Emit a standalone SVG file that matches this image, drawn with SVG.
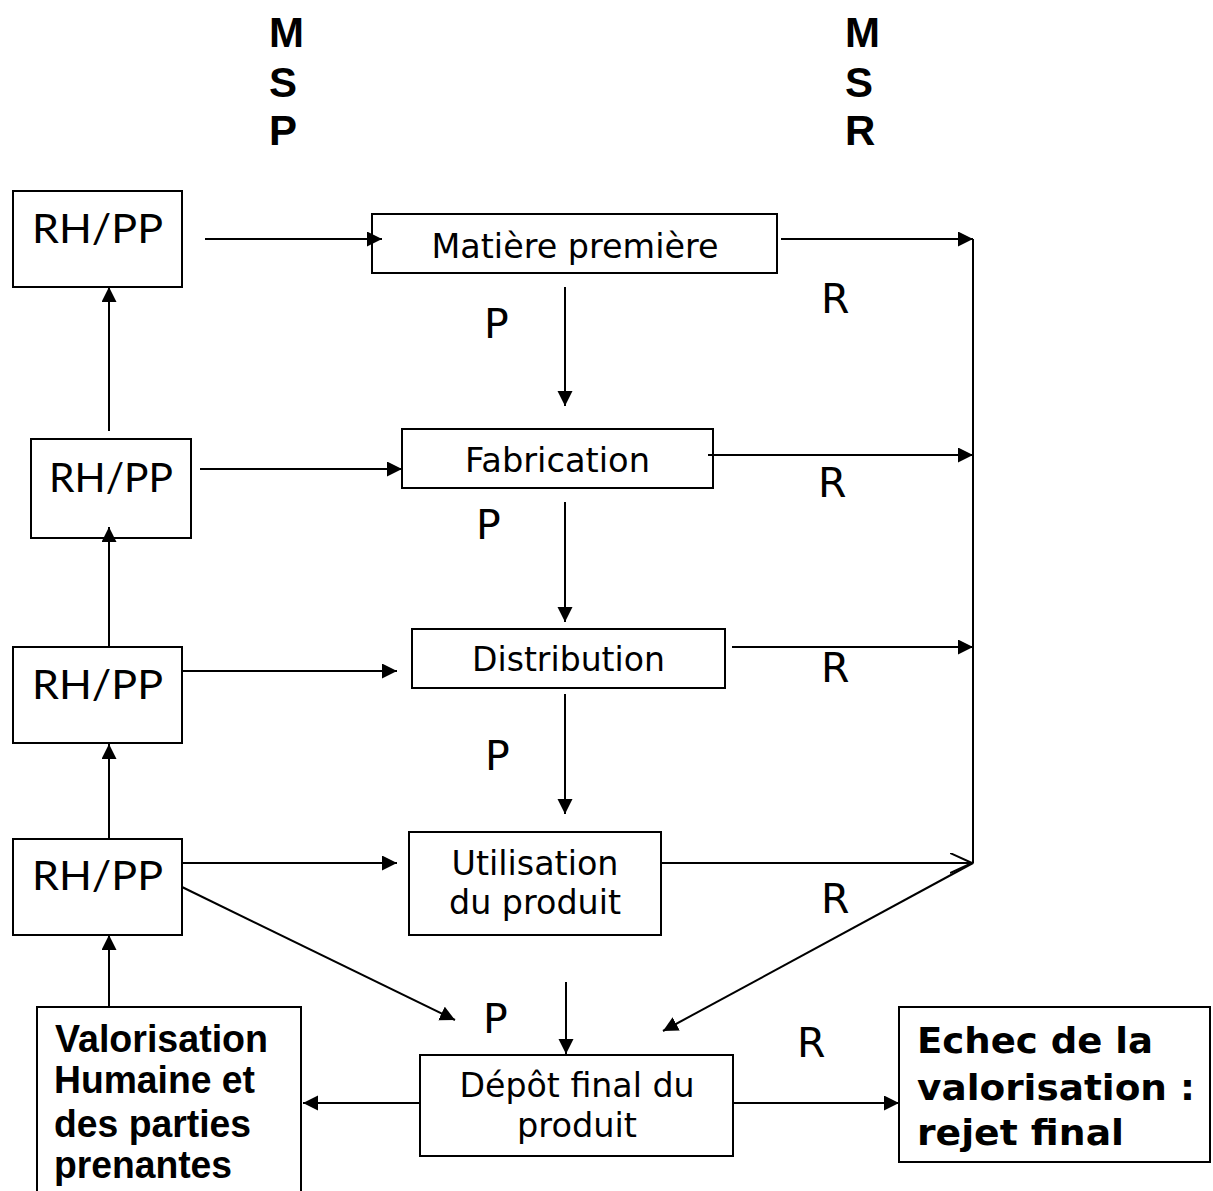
<svg xmlns="http://www.w3.org/2000/svg" width="1213" height="1191" viewBox="0 0 1213 1191">
<style>
.box{fill:#fff;stroke:#000;stroke-width:2}
.ln{fill:none;stroke:#000;stroke-width:2}
.rh{font-family:Lato,"Liberation Sans",sans-serif;font-size:40px;text-anchor:middle}
.bt{font-family:"DejaVu Sans",Verdana,sans-serif;font-size:33px;text-anchor:middle}
.lab{font-family:"DejaVu Sans",Verdana,sans-serif;font-size:41px}
.hd{font-family:"Liberation Sans",Arial,sans-serif;font-weight:bold;font-size:42px}
.vb{font-family:"Liberation Sans",Arial,sans-serif;font-weight:bold;font-size:38px}
.eb{font-family:"DejaVu Sans",Verdana,sans-serif;font-weight:bold;font-size:35px}
</style>
<defs>
<marker id="ah" markerUnits="userSpaceOnUse" markerWidth="16" markerHeight="16" refX="15" refY="7.5" orient="auto" viewBox="0 0 16 16">
<path d="M0,0 L15,7.5 L0,15 z" fill="#000"/>
</marker>
<marker id="oh" markerUnits="userSpaceOnUse" markerWidth="24" markerHeight="24" refX="22" refY="10" orient="auto" viewBox="0 0 24 24">
<path d="M0,0 L22,10 L0,20" fill="none" stroke="#000" stroke-width="2"/>
</marker>
</defs>
<g id="headers">
<text class="hd" x="269" y="47">M</text>
<text class="hd" x="269" y="97">S</text>
<text class="hd" x="269" y="145">P</text>
<text class="hd" x="845" y="47">M</text>
<text class="hd" x="845" y="97">S</text>
<text class="hd" x="845" y="145">R</text>
</g>
<g id="rh1"><rect class="box" x="13" y="191" width="169" height="96"/><text class="rh" x="97.5" y="243" textLength="131" lengthAdjust="spacingAndGlyphs">RH/PP</text></g>
<g id="rh2"><rect class="box" x="31" y="439" width="160" height="99"/><text class="rh" x="111" y="492" textLength="124" lengthAdjust="spacingAndGlyphs">RH/PP</text></g>
<g id="rh3"><rect class="box" x="13" y="647" width="169" height="96"/><text class="rh" x="97.5" y="699" textLength="131" lengthAdjust="spacingAndGlyphs">RH/PP</text></g>
<g id="rh4"><rect class="box" x="13" y="839" width="169" height="96"/><text class="rh" x="97.5" y="890" textLength="131" lengthAdjust="spacingAndGlyphs">RH/PP</text></g>
<g id="matiere"><rect class="box" x="372" y="214" width="405" height="59"/><text class="bt" x="575" y="258" textLength="287" lengthAdjust="spacingAndGlyphs">Matière première</text></g>
<g id="fabrication"><rect class="box" x="402" y="429" width="311" height="59"/><text class="bt" x="557.5" y="472" textLength="185" lengthAdjust="spacingAndGlyphs">Fabrication</text></g>
<g id="distribution"><rect class="box" x="412" y="629" width="313" height="59"/><text class="bt" x="568.5" y="671" textLength="193" lengthAdjust="spacingAndGlyphs">Distribution</text></g>
<g id="utilisation"><rect class="box" x="409" y="832" width="252" height="103"/><text class="bt" x="535" y="875" textLength="167" lengthAdjust="spacingAndGlyphs">Utilisation</text><text class="bt" x="535" y="914" textLength="172" lengthAdjust="spacingAndGlyphs">du produit</text></g>
<g id="depot"><rect class="box" x="420" y="1055" width="313" height="101"/><text class="bt" x="577" y="1097" textLength="235" lengthAdjust="spacingAndGlyphs">Dépôt final du</text><text class="bt" x="577" y="1137" textLength="120" lengthAdjust="spacingAndGlyphs">produit</text></g>
<g id="valorisation"><rect class="box" x="37" y="1007" width="264" height="200"/>
<text class="vb" x="55" y="1052" textLength="213" lengthAdjust="spacingAndGlyphs">Valorisation</text>
<text class="vb" x="54" y="1093" textLength="201" lengthAdjust="spacingAndGlyphs">Humaine et</text>
<text class="vb" x="54" y="1137" textLength="197" lengthAdjust="spacingAndGlyphs">des parties</text>
<text class="vb" x="54" y="1178" textLength="178" lengthAdjust="spacingAndGlyphs">prenantes</text></g>
<g id="echec"><rect class="box" x="899" y="1007" width="311" height="155"/>
<text class="eb" x="917" y="1053" textLength="236" lengthAdjust="spacingAndGlyphs">Echec de la</text>
<text class="eb" x="917" y="1100" textLength="278" lengthAdjust="spacingAndGlyphs">valorisation :</text>
<text class="eb" x="917" y="1145" textLength="207" lengthAdjust="spacingAndGlyphs">rejet final</text></g>
<g id="labels">
<text class="lab" x="484" y="338">P</text>
<text class="lab" x="476" y="539">P</text>
<text class="lab" x="485" y="770">P</text>
<text class="lab" x="483" y="1033">P</text>
<text class="lab" x="821" y="313">R</text>
<text class="lab" x="818" y="497">R</text>
<text class="lab" x="821" y="682">R</text>
<text class="lab" x="821" y="913">R</text>
<text class="lab" x="797" y="1057">R</text>
</g>
<g id="connectors">
<line class="ln" x1="205" y1="239" x2="382" y2="239" marker-end="url(#ah)"/>
<line class="ln" x1="109" y1="431" x2="109" y2="287" marker-end="url(#ah)"/>
<line class="ln" x1="200" y1="469" x2="402" y2="469" marker-end="url(#ah)"/>
<line class="ln" x1="109" y1="647" x2="109" y2="527" marker-end="url(#ah)"/>
<line class="ln" x1="181" y1="671" x2="397" y2="671" marker-end="url(#ah)"/>
<line class="ln" x1="109" y1="839" x2="109" y2="744" marker-end="url(#ah)"/>
<line class="ln" x1="181" y1="863" x2="397" y2="863" marker-end="url(#ah)"/>
<line class="ln" x1="182" y1="887" x2="455" y2="1020" marker-end="url(#ah)"/>
<line class="ln" x1="109" y1="1007" x2="109" y2="935" marker-end="url(#ah)"/>
<line class="ln" x1="565" y1="287" x2="565" y2="406" marker-end="url(#ah)"/>
<line class="ln" x1="565" y1="502" x2="565" y2="622" marker-end="url(#ah)"/>
<line class="ln" x1="565" y1="694" x2="565" y2="814" marker-end="url(#ah)"/>
<line class="ln" x1="566" y1="982" x2="566" y2="1054" marker-end="url(#ah)"/>
<line class="ln" x1="781" y1="239" x2="973" y2="239" marker-end="url(#ah)"/>
<line class="ln" x1="708" y1="455" x2="973" y2="455" marker-end="url(#ah)"/>
<line class="ln" x1="732" y1="647" x2="973" y2="647" marker-end="url(#ah)"/>
<line class="ln" x1="661" y1="863" x2="972" y2="863" marker-end="url(#oh)"/>
<line class="ln" x1="973" y1="239" x2="973" y2="863"/>
<line class="ln" x1="973" y1="863" x2="663" y2="1031" marker-end="url(#ah)"/>
<line class="ln" x1="420" y1="1103" x2="303" y2="1103" marker-end="url(#ah)"/>
<line class="ln" x1="733" y1="1103" x2="899" y2="1103" marker-end="url(#ah)"/>
</g>
</svg>
